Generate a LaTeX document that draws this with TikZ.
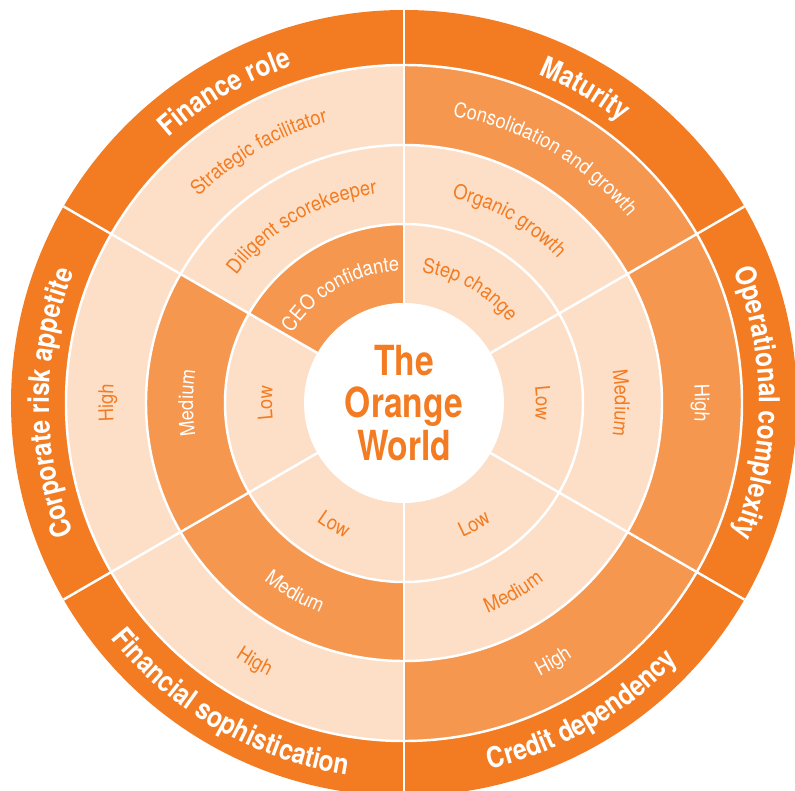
\documentclass[tikz,border=0pt]{standalone}
\usepackage{fontspec}
\setmainfont{TeX Gyre Heros}
\newfontfamily\bandfam[FakeStretch=0.85]{TeX Gyre Heros}
\newfontfamily\ringfam[FakeStretch=0.9]{TeX Gyre Heros}
\newfontfamily\titlefam[FakeStretch=0.81]{TeX Gyre Heros}
\usetikzlibrary{decorations.text}

\definecolor{bandorange}{HTML}{F37B21}
\definecolor{midorange}{HTML}{F6974F}
\definecolor{paleorange}{HTML}{FDDFC7}

\newcommand{\bandfont}{\bandfam\bfseries\fontsize{16.4}{18}\selectfont}
\newcommand{\ringfont}{\ringfam\fontsize{11.6}{13}\selectfont}

\tikzset{
  divider/.style={white, line width=1.4pt},
  bandlabel/.style={decorate, decoration={text along path, text align=center,
      text color=white, text={|\bandfont|#1}}},
  celllabel/.style 2 args={decorate, decoration={text along path, text align=center,
      text color=#1, text={|\ringfont|#2}}},
}

\begin{document}
\begin{tikzpicture}[scale=0.02]
        \useasboundingbox (-404,-387) rectangle (391,403);
        \clip (-404,-387) rectangle (391,403);

        % rings
        \fill[paleorange] (0,0) circle (338);
        \fill[midorange] (90:100) arc (90:150:100) -- (150:179) arc (150:90:179) -- cycle;
        \fill[midorange] (150:179) arc (150:270:179) -- (270:258) arc (270:150:258) -- cycle;
        \fill[midorange] (-90:258) arc (-90:90:258) -- (90:338) arc (90:-90:338) -- cycle;
        \fill[bandorange, even odd rule] (0,0) circle (393) (0,0) circle (338);

        \foreach \r in {179,258,338}
            \draw[divider] (0,0) circle (\r);
        \fill[white] (0,0) circle (100);
        \foreach \a in {30,90,...,330}
            \draw[divider] (\a:100) -- (\a:393);

        % outer band
        \path[bandlabel=Finance role]             (150:355) arc (150:90:355);
        \path[bandlabel=Maturity]                 (90:355) arc (90:30:355);
        \path[bandlabel=Operational complexity]   (30:355) arc (30:-30:355);
        \path[bandlabel=Credit dependency]        (-90:376) arc (-90:-30:376);
        \path[bandlabel=Financial sophistication] (-150:376) arc (-150:-90:376);
        \path[bandlabel=Corporate risk appetite]  (210:355) arc (210:150:355);

        % finance role
        \path[celllabel={bandorange}{Strategic facilitator}] (150:291) arc (150:90:291);
        \path[celllabel={bandorange}{Diligent scorekeeper}]  (150:211) arc (150:90:211);
        \path[celllabel={white}{CEO confidante}]             (150:132) arc (150:90:132);

        % maturity
        \path[celllabel={white}{Consolidation and growth}] (90:291) arc (90:30:291);
        \path[celllabel={bandorange}{Organic growth}]      (90:211) arc (90:30:211);
        \path[celllabel={bandorange}{Step change}]         (90:132) arc (90:30:132);

        % operational complexity
        \path[celllabel={white}{High}]        (30:291) arc (30:-30:291);
        \path[celllabel={bandorange}{Medium}] (30:211) arc (30:-30:211);
        \path[celllabel={bandorange}{Low}]    (30:132) arc (30:-30:132);

        % credit dependency
        \path[celllabel={white}{High}]        (-90:305) arc (-90:-30:305);
        \path[celllabel={bandorange}{Medium}] (-90:226) arc (-90:-30:226);
        \path[celllabel={bandorange}{Low}]    (-90:147) arc (-90:-30:147);

        % financial sophistication
        \path[celllabel={bandorange}{High}] (-150:305) arc (-150:-90:305);
        \path[celllabel={white}{Medium}]    (-150:226) arc (-150:-90:226);
        \path[celllabel={bandorange}{Low}]  (-150:147) arc (-150:-90:147);

        % corporate risk appetite
        \path[celllabel={bandorange}{High}] (210:291) arc (210:150:291);
        \path[celllabel={white}{Medium}]    (210:211) arc (210:150:211);
        \path[celllabel={bandorange}{Low}]  (210:132) arc (210:150:132);

        \node[text=bandorange, align=center, font=\titlefam\bfseries\fontsize{23.6}{24}\selectfont]
            (title) at (0,0) {The\\Orange\\World};
    \end{tikzpicture}
\end{document}
